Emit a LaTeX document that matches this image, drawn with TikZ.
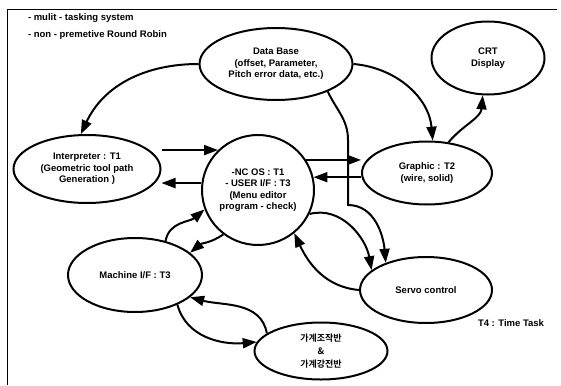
\documentclass[tikz,border=0pt]{standalone}
\usepackage{fontspec}
\setmainfont{Liberation Sans}
\newfontfamily\kofont{Noto Sans CJK KR}[BoldFont={Noto Sans CJK KR Bold}]
\usetikzlibrary{shapes.geometric,arrows.meta}

\begin{document}
\begin{tikzpicture}[x=1pt,y=-1pt,line width=2pt,>={Triangle[length=14pt,width=10pt]},
    font=\bfseries\fontsize{9.5}{11.5}\selectfont]
    \tikzstyle{task}=[ellipse,draw,inner sep=0pt,align=center]
    \tikzstyle{flow}=[->]
    \tikzstyle{annot}=[anchor=west,inner sep=0pt]

    \useasboundingbox (0,0) rectangle (561,385);
    % frame of the scan
    \draw[line width=0.8pt] (7,385) -- (7,9) -- (557,9);

    % Notes at the top left
    \node[annot] (note1) at (27,18) {- mulit - tasking system};
    \node[annot] (note2) at (27,35) {- non - premetive Round Robin};

    % Draw the tasks
    \node[task, minimum width=153pt, minimum height=72pt] (db) at (276,64)
        {Data Base\\(offset, Parameter,\\Pitch error data, etc.)};
    \node[task, minimum width=113pt, minimum height=73pt] (crt) at (488,58) {CRT\\Display};
    \node[task, minimum width=147pt, minimum height=68pt] (int) at (87,169)
        {Interpreter : T1\\(Geometric tool path\\Generation )};
    \node[task, minimum width=112pt, minimum height=110pt] (os) at (258,190)
        {-NC OS : T1\\- USER I/F : T3\\(Menu editor\\program - check)};
    \node[task, minimum width=130pt, minimum height=63pt] (gr) at (427,173) {Graphic : T2\\(wire, solid)};
    \node[task, minimum width=134pt, minimum height=74pt] (mif) at (135,275) {Machine I/F : T3};
    \node[task, minimum width=132pt, minimum height=66pt] (sv) at (426,290) {Servo control};
    \node[task, minimum width=133pt, minimum height=57pt, font=\kofont\bfseries\fontsize{9}{13}\selectfont]
        (pan) at (321,351) {가계조작반\\\&\\가계강전반};
    \node (tt) at (511,323) {T4 : Time Task};

    % Data Base feeds the tasks
    \draw[flow] (db.west) to[out=180,in=65] (int.100);
    \draw[flow] (db.east) to[out=-5,in=95] (gr.80);
    \coordinate (dbdown) at (348,140);
    \coordinate (dbturn) at (348,205);
    \draw[flow] (db.-28) to[out=-65,in=90] (dbdown) -- (dbturn) to[out=0,in=95] (sv.146);
    \draw[flow] (gr.55) to[out=50,in=265] (crt.262);

    % Straight links to and from the NC OS
    \draw[flow] (os.135 -| int.east) -- (os.135);
    \draw[flow] (os.173) -- (os.173 -| int.east);
    \draw[flow] (os.32) -- (os.32 -| gr.west);
    \draw[flow] (os.13 -| gr.west) -- (os.13);

    % Curved links
    \foreach \from/\to/\o/\i in {mif.48/os.200/80/220, os.232/mif.22/215/40,
                                 sv.west/os.-50/175/-65, os.-25/sv.160/15/100,
                                 pan.162/mif.-22/100/-15, mif.-35/pan.172/-75/185}
        \draw[flow] (\from) to[out=\o,in=\i] (\to);
\end{tikzpicture}
\end{document}
